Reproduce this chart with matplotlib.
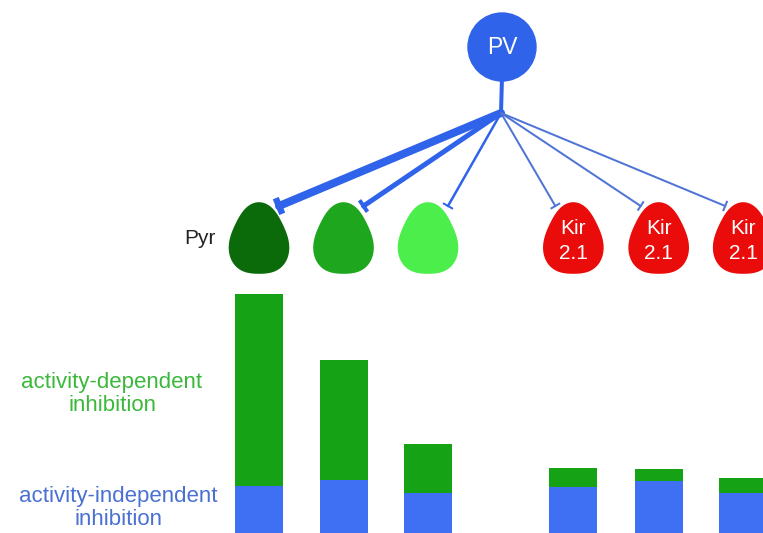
import numpy as np
import matplotlib
matplotlib.use("Agg")
import matplotlib.pyplot as plt
from matplotlib.patches import Polygon, Circle

plt.rcParams['font.family'] = ['Liberation Sans', 'DejaVu Sans']

# ---- data ----
cells = ["Pyr1", "Pyr2", "Pyr3", "Kir1", "Kir2", "Kir3"]
cell_labels = ["", "", "", "Kir\n2.1", "Kir\n2.1", "Kir\n2.1"]
cell_colors = ["#0b6b0b", "#1ea61e", "#4cee4c", "#ea0b0b", "#ea0b0b", "#ea0b0b"]
positions = [0, 1, 2, 3.72, 4.73, 5.73]
activity_independent = [47, 53, 40, 46, 52, 40]
activity_dependent = [192, 120, 49, 19, 12, 15]
synapse_width_px = [8, 5, 2.5, 2, 2, 2]

GREEN_BAR = "#15a315"
BLUE_BAR = "#3f6ff2"
PV_BLUE = "#2f63ea"

W, H = 763, 533
fig = plt.figure(figsize=(W / 100, H / 100), dpi=100)

# diagram axes in pixel coordinates
ax = fig.add_axes([0, 0, 1, 1])
ax.set_xlim(0, W)
ax.set_ylim(H, 0)
ax.axis("off")

# bar axes
unit = 84.5
x0 = 259
bx = fig.add_axes([0, 0, 1, 1], facecolor="none")
bx.set_xlim(-x0 / unit, (W - x0) / unit)
bx.set_ylim(0, H)
bx.axis("off")
bw = 48 / unit
bx.bar(positions, activity_independent, width=bw, color=BLUE_BAR, zorder=2)
bx.bar(positions, activity_dependent, width=bw, bottom=activity_independent,
       color=GREEN_BAR, zorder=2)

cell_x = [x0 + p * unit for p in positions]
cell_y = 238


def pick(cx, cy, w=62, h=73, k=0.075):
    th = np.linspace(0, 2 * np.pi, 300)
    r = 1 + k * np.cos(3 * (th - np.pi / 2))
    xs = r * np.cos(th)
    ys = -r * np.sin(th)  # screen y downward
    xs = (xs - xs.min()) / (xs.max() - xs.min()) - 0.5
    ys = (ys - ys.min()) / (ys.max() - ys.min()) - 0.5
    return np.column_stack([cx + xs * w, cy + ys * h])


# PV neuron
pv_c = (502, 47)
origin = (501, 113)
ax.plot([pv_c[0], origin[0]], [pv_c[1] + 30, origin[1]], color=PV_BLUE,
        lw=4 * 0.72, solid_capstyle="butt", zorder=3)
ax.add_patch(Circle(pv_c, 34, color=PV_BLUE, zorder=4))
ax.text(pv_c[0], pv_c[1] + 1, "PV", color="white", fontsize=16.5,
        ha="center", va="center", zorder=5)

# synapses
for i, (cx, lw) in enumerate(zip(cell_x, synapse_width_px)):
    dx = 20 if cx < origin[0] else -18
    end = np.array([cx + dx, cell_y - 32])
    start = np.array(origin)
    d = end - start
    d = d / np.hypot(*d)
    n = np.array([-d[1], d[0]])
    col = PV_BLUE if i < 3 else "#4f74d6"
    ax.plot([start[0], end[0]], [start[1], end[1]], color=col,
            lw=lw * 0.72, solid_capstyle="round", zorder=3)
    L = 9 + lw
    tb = np.array([end - n * L / 2, end + n * L / 2])
    ax.plot(tb[:, 0], tb[:, 1], color=col, lw=max(lw * 0.8, 2) * 0.72,
            solid_capstyle="butt", zorder=3)

# cells
for cx, col, lab in zip(cell_x, cell_colors, cell_labels):
    ax.add_patch(Polygon(pick(cx, cell_y), closed=True,
                         facecolor=col, edgecolor="white", lw=1, zorder=4))
    if lab:
        ax.text(cx, cell_y + 3, lab, color="white", fontsize=15,
                ha="center", va="center", linespacing=1.35, zorder=5)

ax.text(200, 239, "Pyr", fontsize=15, color="#222222", ha="center",
        va="center")
ax.text(112, 394, "activity-dependent\ninhibition", fontsize=16,
        color="#3cb83c", ha="center", va="center", linespacing=1.1)
ax.text(118, 508, "activity-independent\ninhibition", fontsize=16,
        color="#4a70d2", ha="center", va="center", linespacing=1.1)

fig.savefig("out.png", dpi=100)
